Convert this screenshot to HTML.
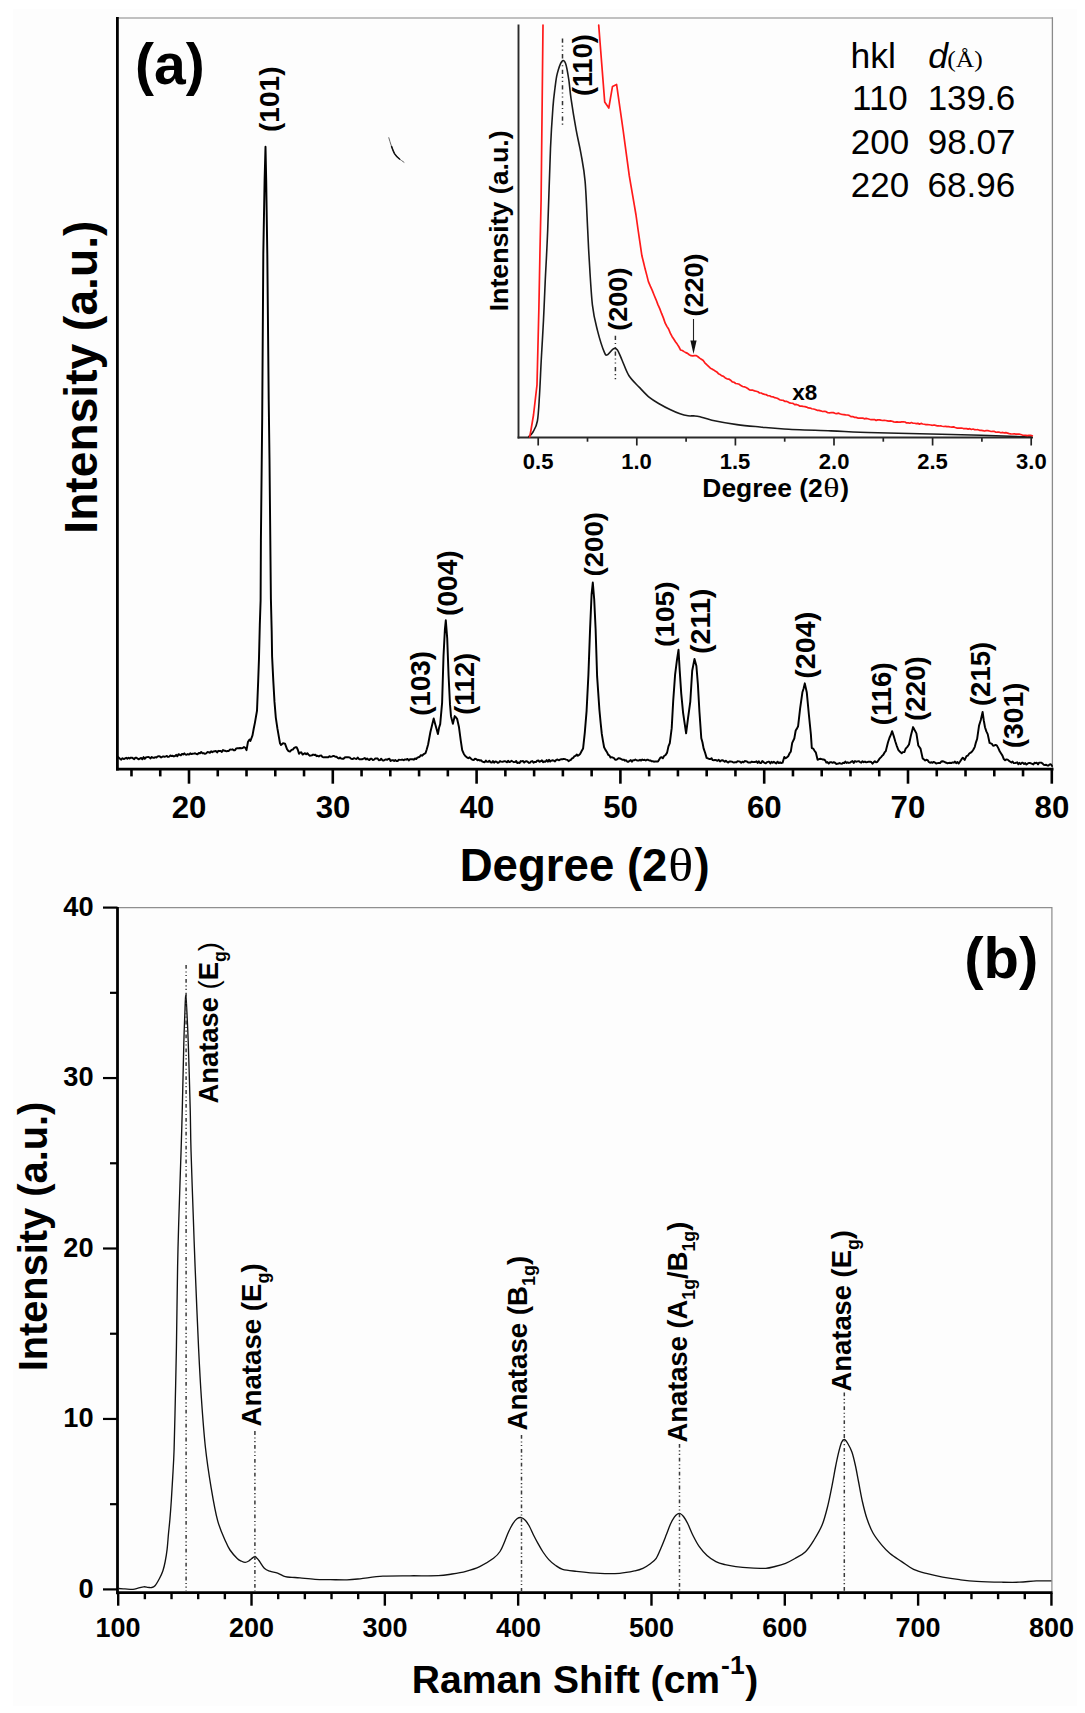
<!DOCTYPE html>
<html><head><meta charset="utf-8"><title>XRD and Raman</title>
<style>html,body{margin:0;padding:0;background:#fff;overflow:hidden;width:1085px;height:1713px;}svg{display:block;}</style></head>
<body><svg width="1085" height="1713" viewBox="0 0 1085 1713">
<rect width="1085" height="1713" fill="#fff"/>
<rect x="13" y="9" width="1064" height="1697" fill="#fdfdfd"/>
<line x1="117" y1="18" x2="1052.6" y2="18" stroke="#ababab" stroke-width="1.7" />
<line x1="1052.4" y1="17.2" x2="1052.4" y2="769" stroke="#8a8a8a" stroke-width="1.3" />
<line x1="131.48" y1="769.2" x2="131.48" y2="776.4" stroke="#000" stroke-width="2.6" />
<line x1="160.24" y1="769.2" x2="160.24" y2="776.4" stroke="#000" stroke-width="2.6" />
<line x1="189" y1="769.2" x2="189" y2="783.7" stroke="#000" stroke-width="2.6" />
<line x1="217.76" y1="769.2" x2="217.76" y2="776.4" stroke="#000" stroke-width="2.6" />
<line x1="246.52" y1="769.2" x2="246.52" y2="776.4" stroke="#000" stroke-width="2.6" />
<line x1="275.28" y1="769.2" x2="275.28" y2="776.4" stroke="#000" stroke-width="2.6" />
<line x1="304.04" y1="769.2" x2="304.04" y2="776.4" stroke="#000" stroke-width="2.6" />
<line x1="332.8" y1="769.2" x2="332.8" y2="783.7" stroke="#000" stroke-width="2.6" />
<line x1="361.56" y1="769.2" x2="361.56" y2="776.4" stroke="#000" stroke-width="2.6" />
<line x1="390.32" y1="769.2" x2="390.32" y2="776.4" stroke="#000" stroke-width="2.6" />
<line x1="419.08" y1="769.2" x2="419.08" y2="776.4" stroke="#000" stroke-width="2.6" />
<line x1="447.84" y1="769.2" x2="447.84" y2="776.4" stroke="#000" stroke-width="2.6" />
<line x1="476.6" y1="769.2" x2="476.6" y2="783.7" stroke="#000" stroke-width="2.6" />
<line x1="505.36" y1="769.2" x2="505.36" y2="776.4" stroke="#000" stroke-width="2.6" />
<line x1="534.12" y1="769.2" x2="534.12" y2="776.4" stroke="#000" stroke-width="2.6" />
<line x1="562.88" y1="769.2" x2="562.88" y2="776.4" stroke="#000" stroke-width="2.6" />
<line x1="591.64" y1="769.2" x2="591.64" y2="776.4" stroke="#000" stroke-width="2.6" />
<line x1="620.4" y1="769.2" x2="620.4" y2="783.7" stroke="#000" stroke-width="2.6" />
<line x1="649.16" y1="769.2" x2="649.16" y2="776.4" stroke="#000" stroke-width="2.6" />
<line x1="677.92" y1="769.2" x2="677.92" y2="776.4" stroke="#000" stroke-width="2.6" />
<line x1="706.68" y1="769.2" x2="706.68" y2="776.4" stroke="#000" stroke-width="2.6" />
<line x1="735.44" y1="769.2" x2="735.44" y2="776.4" stroke="#000" stroke-width="2.6" />
<line x1="764.2" y1="769.2" x2="764.2" y2="783.7" stroke="#000" stroke-width="2.6" />
<line x1="792.96" y1="769.2" x2="792.96" y2="776.4" stroke="#000" stroke-width="2.6" />
<line x1="821.72" y1="769.2" x2="821.72" y2="776.4" stroke="#000" stroke-width="2.6" />
<line x1="850.48" y1="769.2" x2="850.48" y2="776.4" stroke="#000" stroke-width="2.6" />
<line x1="879.24" y1="769.2" x2="879.24" y2="776.4" stroke="#000" stroke-width="2.6" />
<line x1="908" y1="769.2" x2="908" y2="783.7" stroke="#000" stroke-width="2.6" />
<line x1="936.76" y1="769.2" x2="936.76" y2="776.4" stroke="#000" stroke-width="2.6" />
<line x1="965.52" y1="769.2" x2="965.52" y2="776.4" stroke="#000" stroke-width="2.6" />
<line x1="994.28" y1="769.2" x2="994.28" y2="776.4" stroke="#000" stroke-width="2.6" />
<line x1="1023.04" y1="769.2" x2="1023.04" y2="776.4" stroke="#000" stroke-width="2.6" />
<line x1="1051.8" y1="769.2" x2="1051.8" y2="783.7" stroke="#000" stroke-width="2.6" />
<line x1="117.4" y1="17" x2="117.4" y2="770.6" stroke="#000" stroke-width="2.8" />
<line x1="116" y1="769.2" x2="1053.5" y2="769.2" stroke="#000" stroke-width="2.8" />
<text transform="translate(171.75,818.2)" font-family="'Liberation Sans', sans-serif" font-weight="bold" font-size="31.2" fill="#000">20</text>
<text transform="translate(315.73,818.2)" font-family="'Liberation Sans', sans-serif" font-weight="bold" font-size="31.2" fill="#000">30</text>
<text transform="translate(459.65,818.2)" font-family="'Liberation Sans', sans-serif" font-weight="bold" font-size="31.2" fill="#000">40</text>
<text transform="translate(603.21,818.2)" font-family="'Liberation Sans', sans-serif" font-weight="bold" font-size="31.2" fill="#000">50</text>
<text transform="translate(746.92,818.2)" font-family="'Liberation Sans', sans-serif" font-weight="bold" font-size="31.2" fill="#000">60</text>
<text transform="translate(890.62,818.2)" font-family="'Liberation Sans', sans-serif" font-weight="bold" font-size="31.2" fill="#000">70</text>
<text transform="translate(1034.59,818.2)" font-family="'Liberation Sans', sans-serif" font-weight="bold" font-size="31.2" fill="#000">80</text>
<text transform="translate(459.65,880.6)" font-family="'Liberation Sans', sans-serif" font-weight="bold" font-size="45.6" fill="#000">Degree (2</text>
<text transform="translate(668.26,880.6) scale(1.13,1)" font-family="'Liberation Serif', serif" font-weight="normal" font-size="46" fill="#000">θ</text>
<text transform="translate(694.56,880.6)" font-family="'Liberation Sans', sans-serif" font-weight="bold" font-size="45.6" fill="#000">)</text>
<text transform="translate(96.6,533.69) rotate(-90)" font-family="'Liberation Sans', sans-serif" font-weight="bold" font-size="46.2" fill="#000">Intensity (a.u.)</text>
<text transform="translate(135.05,83.9) scale(0.98,1)" font-family="'Liberation Sans', sans-serif" font-weight="bold" font-size="58.2" fill="#000">(a)</text>
<polyline points="118,757 120,758.73 121.25,759.66 122.5,758.21 123.75,759.05 125,758.5 126.15,757.79 127.31,758.74 128.46,757.67 129.62,758.5 130.77,757.66 131.92,757.67 133.08,758.36 134.23,759.21 135.38,757.63 136.54,757.81 137.69,758.66 138.85,759.32 140,758.47 141.18,758.01 142.35,759.22 143.53,757.11 144.71,758.83 145.88,757.51 147.06,757.13 148.24,757.01 149.41,757.36 150.59,758.41 151.76,756.95 152.94,757.77 154.12,757.83 155.29,757.18 156.47,757.5 157.65,756.37 158.82,756.3 160,756.55 161.15,757.47 162.31,756.78 163.46,756.4 164.62,756.87 165.77,756.44 166.92,755.97 168.08,756.93 169.23,756.59 170.38,755.46 171.54,756.06 172.69,755.82 173.85,756.46 175,756 176.17,754.89 177.33,756.27 178.5,754.23 179.67,754.75 180.83,755.36 182,753.88 183.17,754.48 184.33,753.35 185.5,754.6 186.67,754.67 187.83,754.1 189,754.63 190.22,753.3 191.44,754.05 192.67,753.74 193.89,753.62 195.11,753.26 196.33,754.01 197.56,754.16 198.78,753.03 200,753.36 201.23,751.96 202.46,753.29 203.69,753.09 204.92,753.78 206.15,753.32 207.38,752.06 208.62,752.21 209.85,752.76 211.08,751.26 212.31,752.15 213.54,751.42 214.77,751.23 216,751.03 217.17,752.42 218.33,750.85 219.5,750.94 220.67,751.09 221.83,751.98 223,750.08 224.17,750.72 225.33,750.78 226.5,751.34 227.67,751.04 228.83,750.97 230,749.51 231.25,749.64 232.5,749.34 233.75,750.32 235,750.31 236.25,748.36 237.5,748.24 238.75,748.19 240,748.01 241.33,748.2 242.67,748.06 244,746.98 245.25,747.81 246.5,750.12 248,741.71 249.5,739.65 250.4,741 252.5,735.32 253.7,728.78 254.9,722.86 257,710.79 258.2,680.82 259,658.08 259.8,625.12 260.6,600.82 260.9,540.66 262.2,417.76 263.3,254.38 264.6,180.13 265.5,146.8 266.2,180.04 267.3,253.65 268.7,399.36 269.5,459.26 270.5,559.65 270.9,599.02 271.7,631.6 272.1,656.43 273.3,680.92 274.5,701.9 275.8,717.56 277.4,728.42 279,737.65 280,743.23 281,744.95 283,743.16 285,743.7 287,749.17 288.5,751.02 290,751.58 291.5,749.93 293,749.46 294.2,747.92 295.4,747.29 296.6,747.15 297.8,749.73 299,753.72 300.2,752.46 301.4,752.35 302.6,754.59 303.8,753.86 305,753.22 306.15,754.25 307.31,753.27 308.46,754.52 309.62,755.67 310.77,755.57 311.92,755.35 313.08,754.55 314.23,754.94 315.38,754.65 316.54,756.14 317.69,755.76 318.85,756.46 320,755.63 321.18,755.48 322.35,756.87 323.53,757.35 324.71,757.15 325.88,757.14 327.06,757.27 328.24,757.19 329.41,756.15 330.59,756.89 331.76,756.62 332.94,756 334.12,756.09 335.29,756.74 336.47,756.79 337.65,757.84 338.82,758.51 340,757.48 341.18,758.61 342.35,758.78 343.53,758.76 344.71,757.51 345.88,757.25 347.06,757.32 348.24,757.3 349.41,757.37 350.59,758.35 351.76,759.01 352.94,758.93 354.12,758.19 355.29,758.62 356.47,759 357.65,757.48 358.82,758.8 360,759.4 361.18,759.17 362.35,759.16 363.53,758.61 364.71,758 365.88,759.4 367.06,758.45 368.24,759.53 369.41,759.96 370.59,758.75 371.76,758.81 372.94,760.07 374.12,759.63 375.29,758.46 376.47,758.42 377.65,758.53 378.82,760.24 380,760.07 381.18,758.68 382.35,760.24 383.53,760.63 384.71,759.98 385.88,759.37 387.06,759.86 388.24,759 389.41,758.8 390.59,760.97 391.76,760.32 392.94,760.11 394.12,761.06 395.29,760.02 396.47,761.04 397.65,761 398.82,759.71 400,759.85 401.25,759.83 402.5,759.6 403.75,760.25 405,759.42 406.25,759.66 407.5,758.91 408.75,760.51 410,759.18 411.25,759.18 412.5,759.23 413.75,759.71 415,758.43 416.18,759.04 417.35,757.65 418.52,757.25 419.7,756.75 420.85,755.19 422,755.67 423.15,754.65 424.3,753.81 425.5,753.21 426.7,749.48 428.1,744.54 430.4,732 432.05,725.32 433.7,718.52 435.1,723.77 436.5,728.69 437.9,734.03 439.05,727.83 440.2,724.13 442.1,702.95 443.5,656.21 444.9,629.3 445.8,620.32 447.2,638.14 448.6,675.97 450,704.41 451,716.38 452.9,723.85 454.7,716.11 455.9,717.28 457.1,718.82 458.9,726.7 460.8,740.87 462.2,750.15 463.85,753.97 465.5,756.24 466.9,757.33 468.3,758.17 469.7,757.37 471.1,758.73 472.4,759.88 473.7,759.95 475,758.7 476.25,759.09 477.5,760.22 478.75,759.83 480,760.63 481.18,760.3 482.35,761.64 483.53,761.93 484.71,762.21 485.88,760.62 487.06,761.89 488.24,761.8 489.41,760.7 490.59,762.36 491.76,762.58 492.94,760.97 494.12,762.62 495.29,761.43 496.47,761.67 497.65,762.81 498.82,762.5 500,761.06 501.15,761.66 502.31,761.85 503.46,761.47 504.62,761.16 505.77,761.44 506.92,762.33 508.08,760.8 509.23,761.98 510.38,761.74 511.54,760.82 512.69,761.51 513.85,762.16 515,761.93 516.15,760.95 517.31,762.98 518.46,762.56 519.62,762.97 520.77,761.07 521.92,761.43 523.08,760.94 524.23,762.58 525.38,761.46 526.54,761.16 527.69,761.81 528.85,762.9 530,762.7 531.19,761.4 532.38,761.09 533.57,762.71 534.76,761.87 535.95,762.08 537.14,760.67 538.33,760.53 539.52,761.84 540.71,761.19 541.9,760.35 543.1,762.18 544.29,761.44 545.48,761.74 546.67,760.08 547.86,761.71 549.05,759.9 550.24,761.58 551.43,760.61 552.62,760.29 553.81,760.69 555,761.44 556.25,759.9 557.5,759.51 558.75,760.3 560,759.57 561.25,759.2 562.5,759.23 563.75,758.9 565,759.14 566.17,759.64 567.35,759.87 568.53,761.12 569.7,760.34 570.87,759.93 572.03,758.36 573.2,757.86 574.37,756.27 575.53,755.92 576.7,754.53 577.87,755.75 579.03,754.98 580.2,753.82 581.65,750.94 583.1,748.46 584.8,732.63 586.6,710.8 588.4,674.95 590.1,628.39 591.6,594.14 592.8,582.56 594.2,599.21 595.6,628.81 597.1,676.16 599.4,709.75 600.6,722.53 601.8,733.95 602.95,740.8 604.1,747.29 605.47,749.86 606.83,751.92 608.2,754.79 609.36,755.36 610.52,757.53 611.68,757.16 612.84,757.66 614,758.19 615.17,759.73 616.35,759.67 617.53,759.1 618.7,758.12 619.96,758.47 621.22,759.02 622.48,759.83 623.74,759.61 625,760.68 626.15,760.26 627.31,761.77 628.46,761.77 629.62,760.81 630.77,760.12 631.92,761.69 633.08,760.22 634.23,760.3 635.38,759.49 636.54,760.31 637.69,760.49 638.85,760.53 640,759.84 641.15,760.56 642.31,759.52 643.46,760.14 644.62,759.81 645.77,760.55 646.92,759.81 648.08,759.83 649.23,760.5 650.38,760.4 651.54,761.23 652.69,761.16 653.85,761.7 655,761.55 656.5,761.38 658,761.43 660.3,757.76 661.57,757.22 662.83,758.27 664.1,756.03 665.6,755.04 667.1,752.62 668.45,746.35 669.8,743.14 671.7,728.16 673.2,700.98 675.1,674.61 677,659.69 678.5,649.81 679.7,670.35 681.2,693.11 683.1,712.84 684.6,723.02 686.1,733.32 688,718.28 690.3,701.56 692.2,670.7 694.5,659.03 696.4,666.01 697.9,684.47 699.4,711.29 701.3,738.29 702.45,742.28 703.6,748.44 705.1,752.78 706.6,757.88 707.87,758.38 709.13,759 710.4,759.08 711.55,758.21 712.7,760.15 713.85,760.25 715,759.91 716.25,760.25 717.5,760.8 718.75,759.77 720,761.52 721.18,760.53 722.35,760.2 723.53,760.7 724.71,761.79 725.88,760.7 727.06,761.95 728.24,762.54 729.41,761.55 730.59,761.38 731.76,761.66 732.94,762.18 734.12,762.43 735.29,762.17 736.47,762.3 737.65,761.13 738.82,761.35 740,761.66 741.18,762.72 742.35,761.75 743.53,762.31 744.71,761.08 745.88,761.17 747.06,761.62 748.24,762.5 749.41,762.53 750.59,762.48 751.76,761.62 752.94,762.11 754.12,761.98 755.29,761.97 756.47,761.2 757.65,762.89 758.82,761.35 760,763.05 761.15,763.01 762.31,761.03 763.46,762.05 764.62,762.89 765.77,763.26 766.92,762.17 768.08,761.81 769.23,761.73 770.38,763.4 771.54,761.83 772.69,762.69 773.85,761.77 775,762.65 776.27,763.53 777.53,761.66 778.8,763.1 780.07,762.35 781.33,763.12 782.6,762.65 784.3,757.01 785.67,758.27 787.03,757.17 788.4,755.95 789.6,753.26 790.8,751.68 792.2,742.89 794.3,738.46 795.7,730.51 796.9,728.61 798.1,726.2 800.1,708.65 802.4,692.3 803.6,688.55 804.8,683.35 806.8,692.56 808.9,714.74 810.9,734.67 811.8,747.98 813.17,748.57 814.53,750.69 815.9,752.66 817.6,759.8 818.97,759.1 820.33,758.79 821.7,759.14 822.86,759.45 824.02,759.59 825.18,760.34 826.34,762.6 827.5,762.03 828.75,763.54 830,762.12 831.25,762.23 832.5,762.86 833.75,762.23 835,762.72 836.15,763.95 837.31,763.74 838.46,763.52 839.62,763.07 840.77,763.64 841.92,763.65 843.08,762.73 844.23,763.05 845.38,761.52 846.54,762.97 847.69,762.3 848.85,762.91 850,762.62 851.25,761.73 852.5,761.11 853.75,762.94 855,761.08 856.25,761.74 857.5,761.36 858.75,761.16 860,762.03 861.25,762.68 862.5,761.23 863.75,762.23 865,761.58 866.25,762.28 867.5,762.05 868.75,761.68 870,761.8 871.25,762.03 872.5,763.69 873.68,762.33 874.86,761.26 876.04,762.31 877.22,762.05 878.4,760.39 879.63,758.47 880.87,757.36 882.1,755.9 883.33,754.72 884.57,752.43 885.8,751.03 888,742.27 889.5,737.75 890.8,734.95 892.1,731.15 893.75,736.11 895.4,741.81 896.85,746.1 898.3,749.83 900,751.79 901.7,753.24 903.03,752.11 904.37,752.03 905.7,748.58 907.35,746.81 909,744.49 910.9,735.5 913.1,727.08 914.75,730.3 916.4,733.35 918.3,745.48 920.5,748.58 922.7,758.5 923.93,759.37 925.17,760.52 926.4,759.75 927.62,760.14 928.83,761.99 930.05,762.77 931.27,762.21 932.48,762.83 933.7,761.9 934.96,762.56 936.22,763.54 937.48,763.12 938.74,762.98 940,763.04 941.25,761.51 942.5,761.26 943.75,761.43 945,762.3 946.25,762.71 947.5,763.35 948.75,762.93 950,762.82 951.24,763.1 952.49,762.43 953.73,762.66 954.97,761.54 956.21,763.19 957.46,762 958.7,763.52 960.07,761.55 961.43,759.43 962.8,757.68 964.7,759.95 966.5,756.2 967.9,755.57 969.3,753.51 970.7,752.65 972.07,751.49 973.43,749.45 974.8,746.85 975.95,742.34 977.1,739.02 979,725.82 980.8,719.96 982.6,712.01 983.8,720.51 985,727.22 986.35,731.39 987.7,734.15 989.6,742.92 991.9,743.84 993.13,745.71 994.37,745.45 995.6,744.88 996.95,745.65 998.3,748.1 999.7,751.23 1001.1,753.42 1002.45,755.62 1003.8,759.07 1005.1,760.28 1006.4,759.38 1007.7,759.6 1009,760.9 1010.3,761.73 1011.45,762.48 1012.6,761.59 1013.75,763.08 1014.9,763.13 1016.05,762.79 1017.2,762.3 1018.35,764.16 1019.5,762.89 1020.65,764.05 1021.8,762.81 1022.95,762.84 1024.1,764.07 1025.25,763.1 1026.4,764.59 1027.55,763.64 1028.7,763.01 1029.86,763.04 1031.03,763.42 1032.19,763.91 1033.35,764.49 1034.51,762.67 1035.67,763.17 1036.84,762.72 1038,764.34 1039.17,762.65 1040.33,762.6 1041.5,762.76 1042.67,763.63 1043.83,764.88 1045,764.99 1046.17,764.8 1047.33,765.53 1048.5,765.52 1049.67,764.34 1050.83,764.17 1052,765.96" fill="none" stroke="#000" stroke-width="1.95" stroke-linejoin="round" stroke-linecap="round" />
<path d="M388.8,137.7 C390.2,142.5 392,148.5 394.3,153.2 C396.5,157 400.5,159.8 404,162.3" fill="none" stroke="#666" stroke-width="1.0" stroke-linecap="round"/>
<path d="M391.6,146.5 C392.6,149.5 393.4,151.6 394.5,153.6 C396,156 397.5,157.4 399.5,159" fill="none" stroke="#111" stroke-width="1.5" stroke-linecap="round"/>
<text transform="translate(278.87,132.1) rotate(-90)" font-family="'Liberation Sans', sans-serif" font-weight="bold" font-size="28.11" fill="#000">(101)</text>
<text transform="translate(429.76,715.68) rotate(-90)" font-family="'Liberation Sans', sans-serif" font-weight="bold" font-size="27.68" fill="#000">(103)</text>
<text transform="translate(457.21,616) rotate(-90) scale(1.01,1)" font-family="'Liberation Sans', sans-serif" font-weight="bold" font-size="27.9" fill="#000">(004)</text>
<text transform="translate(473.96,714.76) rotate(-90) scale(0.98,1)" font-family="'Liberation Sans', sans-serif" font-weight="bold" font-size="27.68" fill="#000">(112)</text>
<text transform="translate(602.88,576.58) rotate(-90) scale(1.04,1)" font-family="'Liberation Sans', sans-serif" font-weight="bold" font-size="26.61" fill="#000">(200)</text>
<text transform="translate(673.77,646.89) rotate(-90) scale(1.07,1)" font-family="'Liberation Sans', sans-serif" font-weight="bold" font-size="26.18" fill="#000">(105)</text>
<text transform="translate(710.02,654.03) rotate(-90) scale(1.05,1)" font-family="'Liberation Sans', sans-serif" font-weight="bold" font-size="27.36" fill="#000">(211)</text>
<text transform="translate(815.2,678.73) rotate(-90) scale(1.01,1)" font-family="'Liberation Sans', sans-serif" font-weight="bold" font-size="28.43" fill="#000">(204)</text>
<text transform="translate(890.73,725.28) rotate(-90) scale(1.03,1)" font-family="'Liberation Sans', sans-serif" font-weight="bold" font-size="26.82" fill="#000">(116)</text>
<text transform="translate(924.71,720.88) rotate(-90) scale(1.03,1)" font-family="'Liberation Sans', sans-serif" font-weight="bold" font-size="26.93" fill="#000">(220)</text>
<text transform="translate(989.59,706.08) rotate(-90) scale(1.02,1)" font-family="'Liberation Sans', sans-serif" font-weight="bold" font-size="27.04" fill="#000">(215)</text>
<text transform="translate(1023.21,748.3) rotate(-90) scale(1.01,1)" font-family="'Liberation Sans', sans-serif" font-weight="bold" font-size="27.9" fill="#000">(301)</text>
<line x1="538.2" y1="437.5" x2="538.2" y2="445.5" stroke="#222" stroke-width="1.7" />
<line x1="587.5" y1="437.5" x2="587.5" y2="441.7" stroke="#222" stroke-width="1.7" />
<line x1="636.8" y1="437.5" x2="636.8" y2="445.5" stroke="#222" stroke-width="1.7" />
<line x1="686.1" y1="437.5" x2="686.1" y2="441.7" stroke="#222" stroke-width="1.7" />
<line x1="735.4" y1="437.5" x2="735.4" y2="445.5" stroke="#222" stroke-width="1.7" />
<line x1="784.7" y1="437.5" x2="784.7" y2="441.7" stroke="#222" stroke-width="1.7" />
<line x1="834" y1="437.5" x2="834" y2="445.5" stroke="#222" stroke-width="1.7" />
<line x1="883.3" y1="437.5" x2="883.3" y2="441.7" stroke="#222" stroke-width="1.7" />
<line x1="932.6" y1="437.5" x2="932.6" y2="445.5" stroke="#222" stroke-width="1.7" />
<line x1="981.9" y1="437.5" x2="981.9" y2="441.7" stroke="#222" stroke-width="1.7" />
<line x1="1031.2" y1="437.5" x2="1031.2" y2="445.5" stroke="#222" stroke-width="1.7" />
<line x1="518.5" y1="24.4" x2="518.5" y2="438.4" stroke="#2a2a2a" stroke-width="1.9" />
<line x1="517.6" y1="437.5" x2="1033" y2="437.5" stroke="#2a2a2a" stroke-width="1.9" />
<text transform="translate(522.78,468.6)" font-family="'Liberation Sans', sans-serif" font-weight="bold" font-size="22" fill="#000">0.5</text>
<text transform="translate(621.27,468.6)" font-family="'Liberation Sans', sans-serif" font-weight="bold" font-size="22" fill="#000">1.0</text>
<text transform="translate(719.72,468.6)" font-family="'Liberation Sans', sans-serif" font-weight="bold" font-size="22" fill="#000">1.5</text>
<text transform="translate(818.78,468.6)" font-family="'Liberation Sans', sans-serif" font-weight="bold" font-size="22" fill="#000">2.0</text>
<text transform="translate(917.23,468.6)" font-family="'Liberation Sans', sans-serif" font-weight="bold" font-size="22" fill="#000">2.5</text>
<text transform="translate(1016.11,468.6)" font-family="'Liberation Sans', sans-serif" font-weight="bold" font-size="22" fill="#000">3.0</text>
<text transform="translate(702.33,497)" font-family="'Liberation Sans', sans-serif" font-weight="bold" font-size="26.4" fill="#000">Degree (2</text>
<text transform="translate(823.21,497) scale(1.28,1)" font-family="'Liberation Serif', serif" font-weight="normal" font-size="26.4" fill="#000">θ</text>
<text transform="translate(840.27,497)" font-family="'Liberation Sans', sans-serif" font-weight="bold" font-size="26.4" fill="#000">)</text>
<text transform="translate(507.5,311.29) rotate(-90)" font-family="'Liberation Sans', sans-serif" font-weight="bold" font-size="26.7" fill="#000">Intensity (a.u.)</text>
<path d="M528.4,437 C529.17,436.17 531.5,434.67 533,432 C534.5,429.33 536.32,427.17 537.4,421 C538.48,414.83 538.85,405.33 539.5,395 C540.15,384.67 540.63,371.5 541.3,359 C541.97,346.5 542.85,332.9 543.5,320 C544.15,307.1 544.5,296.6 545.2,281.6 C545.9,266.6 546.82,252.23 547.7,230 C548.58,207.77 549.62,168.77 550.5,148.2 C551.38,127.63 552.25,116.63 553,106.6 C553.75,96.57 554.3,93.45 555,88 C555.7,82.55 556.07,78.32 557.2,73.9 C558.33,69.48 560.42,63.27 561.8,61.5 C563.18,59.73 564.35,60.38 565.5,63.3 C566.65,66.22 567.78,73.17 568.7,79 C569.62,84.83 569.77,89.85 571,98.3 C572.23,106.75 574.43,120.45 576.1,129.7 C577.77,138.95 579.5,145.18 581,153.8 C582.5,162.42 583.98,168.7 585.1,181.4 C586.22,194.1 587.05,217.6 587.7,230 C588.35,242.4 588.22,243.33 589,255.8 C589.78,268.27 590.98,292.33 592.4,304.8 C593.82,317.27 595.48,322.63 597.5,330.6 C599.52,338.57 602.77,348.63 604.5,352.6 C606.23,356.57 606.4,355.05 607.9,354.4 C609.4,353.75 611.92,349.43 613.5,348.7 C615.08,347.97 615.98,348.12 617.4,350 C618.82,351.88 620.07,355.7 622,360 C623.93,364.3 626.1,371.23 629,375.8 C631.9,380.37 635.95,383.75 639.4,387.4 C642.85,391.05 646.27,394.9 649.7,397.7 C653.13,400.5 656.62,402.23 660,404.2 C663.38,406.17 666.67,407.9 670,409.5 C673.33,411.1 677,412.75 680,413.8 C683,414.85 685.67,415.45 688,415.8 C690.33,416.15 692,415.73 694,415.9 C696,416.07 697.02,416.08 700,416.8 C702.98,417.52 705.73,418.9 711.9,420.2 C718.07,421.5 728.98,423.47 737,424.6 C745.02,425.73 752.17,426.27 760,427 C767.83,427.73 772.17,428.35 784,429 C795.83,429.65 818.33,430.37 831,430.9 C843.67,431.43 848.8,431.8 860,432.2 C871.2,432.6 878,432.78 898.2,433.3 C918.4,433.82 958.85,434.68 981.2,435.3 C1003.55,435.92 1023.78,436.72 1032.3,437" fill="none" stroke="#1a1a1a" stroke-width="1.6" stroke-linejoin="round" />
<polyline points="543,25.1 542.2,100 541.1,200 540,250 538.9,307.4 537,384.8 533.5,415 531,430 529.7,437" fill="none" stroke="#ff1a1a" stroke-width="1.7" stroke-linejoin="round" stroke-linecap="round" />
<polyline points="598.7,25.1 600.7,50.73 602.7,76.37 604.7,102 606.75,105 608.8,108 610.65,97.2 612.5,86.4 614.55,85.45 616.6,84.5 618.23,95.88 619.85,107.25 621.48,118.62 623.1,130 625.17,145.3 627.23,160.6 629.3,175.9 630.97,185.68 632.65,195.45 634.33,205.22 636,215 638.1,230 640,242.9 641.9,255.76 643.52,262.3 645.15,269.08 646.77,275.12 648.4,281.61 650.33,286.2 652.25,290.37 654.17,295.19 656.1,299.82 657.92,304.6 659.74,308.61 661.56,313.44 663.38,317.89 665.2,323.18 666.9,326.35 668.6,329.04 670.3,333.16 672,336.42 673.72,338.94 675.44,341.7 677.16,344.09 678.88,346.76 680.6,350.03 682.33,350.55 684.07,351.62 685.8,352.62 687.53,353.38 689.27,354.72 691,355.65 692.77,355.94 694.53,355.58 696.3,355.63 697.97,356.75 699.65,358.15 701.33,359.21 703,360.3 704.85,362.82 706.7,364.7 708.55,366.43 710.4,368.19 712,368.92 713.6,369.92 715.2,371.06 716.8,371.95 718.4,373.66 720,374.41 721.76,375.81 723.51,376.4 725.27,377.91 727.03,378.81 728.79,379.05 730.54,380.24 732.3,381.87 734.02,382.26 735.74,383.51 737.46,383.78 739.18,384.28 740.9,385.57 742.62,386.49 744.34,386.82 746.06,387.45 747.78,388.46 749.5,389.82 751.18,390.19 752.86,390.17 754.54,390.84 756.21,391.27 757.89,391.79 759.57,393.01 761.25,393.01 762.93,393.91 764.61,394.37 766.29,394.69 767.96,395.74 769.64,395.75 771.32,396.77 773,396.85 774.67,397.67 776.34,398.02 778.01,398.61 779.67,399.77 781.34,400.16 783.01,400.25 784.68,401.31 786.35,401.24 788.02,401.94 789.69,402.89 791.36,403.24 793.03,403.29 794.69,404.63 796.36,404.47 798.03,405.04 799.7,406.05 801.43,406.06 803.17,406.44 804.9,406.65 806.63,407.08 808.37,407.93 810.1,408.04 811.83,408.77 813.57,408.97 815.3,409.46 817.1,410.33 818.9,410.31 820.7,410.81 822.5,411.49 824.3,411.29 826.1,411.67 827.9,412.77 829.69,412.86 831.47,412.52 833.26,412.64 835.04,413.3 836.83,413.65 838.61,413.16 840.4,414.01 842.14,414.39 843.89,414.58 845.63,414.86 847.38,415.02 849.12,415.41 850.87,416.68 852.61,416.48 854.36,417.34 856.1,417.38 857.77,418.09 859.43,418.09 861.1,418.01 862.77,418.11 864.43,418.8 866.1,418.41 867.77,418.76 869.43,419.25 871.1,419.72 872.77,419.7 874.43,419.6 876.1,420.38 877.71,419.87 879.31,419.84 880.92,420.2 882.53,420.49 884.13,420.28 885.74,420.52 887.35,420.83 888.95,421.15 890.56,420.89 892.16,421.23 893.77,421.84 895.38,422.06 896.98,421.9 898.59,422.07 900.2,422.11 901.8,421.84 903.41,421.88 905.02,422 906.62,422.94 908.23,422.89 909.84,423.26 911.44,422.55 913.05,423.24 914.65,423.24 916.26,423.59 917.87,423.36 919.47,424.11 921.08,423.41 922.69,423.97 924.29,424.28 925.9,424.56 927.53,424.59 929.15,424.74 930.78,425 932.41,425.29 934.03,424.96 935.66,425.44 937.29,425.82 938.91,425.97 940.54,425.74 942.16,426.26 943.79,426.5 945.42,426.42 947.04,426.64 948.67,426.61 950.3,426.97 951.92,427.17 953.55,426.87 955.18,427.55 956.8,428.05 958.43,428.13 960.06,428.17 961.68,428.05 963.31,428.54 964.94,428.58 966.56,428.63 968.19,429.17 969.81,428.67 971.44,429.45 973.07,428.98 974.69,429.67 976.32,429.74 977.95,429.7 979.57,430.3 981.2,430.3 982.85,430.58 984.5,431.03 986.15,430.61 987.79,430.57 989.44,431.01 991.09,431.52 992.74,431.27 994.39,431.42 996.04,432.26 997.68,432.22 999.33,432.2 1000.98,432.78 1002.63,432.45 1004.28,432.93 1005.93,432.69 1007.57,433.08 1009.22,433.59 1010.87,433.87 1012.52,434.01 1014.17,433.74 1015.82,434.1 1017.46,434.04 1019.11,434.05 1020.76,434.55 1022.41,435.04 1024.06,435.23 1025.71,435.28 1027.35,435.67 1029,435.24 1030.65,435.32 1032.3,435.76" fill="none" stroke="#ff1a1a" stroke-width="1.7" stroke-linejoin="round" stroke-linecap="round" />
<line x1="562.5" y1="38.5" x2="562.5" y2="126" stroke="#333" stroke-width="1.5" stroke-dasharray="4.3,2.8,1.1,2.9,1.1,3.4"/>
<line x1="615.4" y1="335.8" x2="615.4" y2="382.3" stroke="#333" stroke-width="1.5" stroke-dasharray="4.3,2.8,1.1,2.9,1.1,3.4"/>
<line x1="693.5" y1="319" x2="693.5" y2="342" stroke="#222" stroke-width="1.1" />
<path d="M690.4,340.5 L696.6,340.5 L693.5,354 Z" fill="#111"/>
<text transform="translate(592.07,96.06) rotate(-90) scale(1,1)" font-family="'Liberation Sans', sans-serif" font-weight="bold" font-size="27.15" fill="#000">(110)</text>
<text transform="translate(627.45,330.75) rotate(-90) scale(1.03,1)" font-family="'Liberation Sans', sans-serif" font-weight="bold" font-size="26.29" fill="#000">(200)</text>
<text transform="translate(703.16,316.55) rotate(-90) scale(1.05,1)" font-family="'Liberation Sans', sans-serif" font-weight="bold" font-size="25.75" fill="#000">(220)</text>
<text transform="translate(792.25,400.3) scale(1.02,1)" font-family="'Liberation Sans', sans-serif" font-weight="bold" font-size="22" fill="#000">x8</text>
<text transform="translate(850.44,67.8)" font-family="'Liberation Sans', sans-serif" font-weight="normal" font-size="35.5" fill="#000">hkl</text>
<text transform="translate(928.2,67.8)" font-family="'Liberation Sans', sans-serif" font-weight="normal" font-size="35.5" fill="#000" font-style="italic">d</text>
<text transform="translate(947.28,67) scale(1.09,1)" font-family="'Liberation Serif', serif" font-weight="normal" font-size="23.5" fill="#000">(Å)</text>
<text transform="translate(852.03,110.2)" font-family="'Liberation Sans', sans-serif" font-weight="normal" font-size="35" fill="#000">110</text>
<text transform="translate(927.63,110.2)" font-family="'Liberation Sans', sans-serif" font-weight="normal" font-size="35" fill="#000">139.6</text>
<text transform="translate(850.74,153.5)" font-family="'Liberation Sans', sans-serif" font-weight="normal" font-size="35" fill="#000">200</text>
<text transform="translate(927.76,153.5)" font-family="'Liberation Sans', sans-serif" font-weight="normal" font-size="35" fill="#000">98.07</text>
<text transform="translate(850.74,196.8)" font-family="'Liberation Sans', sans-serif" font-weight="normal" font-size="35" fill="#000">220</text>
<text transform="translate(927.62,196.8)" font-family="'Liberation Sans', sans-serif" font-weight="normal" font-size="35" fill="#000">68.96</text>
<line x1="119" y1="907.6" x2="1052" y2="907.6" stroke="#8f8f8f" stroke-width="1.2" />
<line x1="1051.9" y1="907" x2="1051.9" y2="1592.7" stroke="#8a8a8a" stroke-width="1.2" />
<line x1="118.2" y1="1592.7" x2="118.2" y2="1605.7" stroke="#000" stroke-width="2.4" />
<line x1="144.86" y1="1592.7" x2="144.86" y2="1599.2" stroke="#000" stroke-width="2.4" />
<line x1="171.53" y1="1592.7" x2="171.53" y2="1599.2" stroke="#000" stroke-width="2.4" />
<line x1="198.19" y1="1592.7" x2="198.19" y2="1599.2" stroke="#000" stroke-width="2.4" />
<line x1="224.86" y1="1592.7" x2="224.86" y2="1599.2" stroke="#000" stroke-width="2.4" />
<line x1="251.52" y1="1592.7" x2="251.52" y2="1605.7" stroke="#000" stroke-width="2.4" />
<line x1="278.18" y1="1592.7" x2="278.18" y2="1599.2" stroke="#000" stroke-width="2.4" />
<line x1="304.85" y1="1592.7" x2="304.85" y2="1599.2" stroke="#000" stroke-width="2.4" />
<line x1="331.51" y1="1592.7" x2="331.51" y2="1599.2" stroke="#000" stroke-width="2.4" />
<line x1="358.18" y1="1592.7" x2="358.18" y2="1599.2" stroke="#000" stroke-width="2.4" />
<line x1="384.84" y1="1592.7" x2="384.84" y2="1605.7" stroke="#000" stroke-width="2.4" />
<line x1="411.5" y1="1592.7" x2="411.5" y2="1599.2" stroke="#000" stroke-width="2.4" />
<line x1="438.17" y1="1592.7" x2="438.17" y2="1599.2" stroke="#000" stroke-width="2.4" />
<line x1="464.83" y1="1592.7" x2="464.83" y2="1599.2" stroke="#000" stroke-width="2.4" />
<line x1="491.5" y1="1592.7" x2="491.5" y2="1599.2" stroke="#000" stroke-width="2.4" />
<line x1="518.16" y1="1592.7" x2="518.16" y2="1605.7" stroke="#000" stroke-width="2.4" />
<line x1="544.82" y1="1592.7" x2="544.82" y2="1599.2" stroke="#000" stroke-width="2.4" />
<line x1="571.49" y1="1592.7" x2="571.49" y2="1599.2" stroke="#000" stroke-width="2.4" />
<line x1="598.15" y1="1592.7" x2="598.15" y2="1599.2" stroke="#000" stroke-width="2.4" />
<line x1="624.82" y1="1592.7" x2="624.82" y2="1599.2" stroke="#000" stroke-width="2.4" />
<line x1="651.48" y1="1592.7" x2="651.48" y2="1605.7" stroke="#000" stroke-width="2.4" />
<line x1="678.14" y1="1592.7" x2="678.14" y2="1599.2" stroke="#000" stroke-width="2.4" />
<line x1="704.81" y1="1592.7" x2="704.81" y2="1599.2" stroke="#000" stroke-width="2.4" />
<line x1="731.47" y1="1592.7" x2="731.47" y2="1599.2" stroke="#000" stroke-width="2.4" />
<line x1="758.14" y1="1592.7" x2="758.14" y2="1599.2" stroke="#000" stroke-width="2.4" />
<line x1="784.8" y1="1592.7" x2="784.8" y2="1605.7" stroke="#000" stroke-width="2.4" />
<line x1="811.46" y1="1592.7" x2="811.46" y2="1599.2" stroke="#000" stroke-width="2.4" />
<line x1="838.13" y1="1592.7" x2="838.13" y2="1599.2" stroke="#000" stroke-width="2.4" />
<line x1="864.79" y1="1592.7" x2="864.79" y2="1599.2" stroke="#000" stroke-width="2.4" />
<line x1="891.46" y1="1592.7" x2="891.46" y2="1599.2" stroke="#000" stroke-width="2.4" />
<line x1="918.12" y1="1592.7" x2="918.12" y2="1605.7" stroke="#000" stroke-width="2.4" />
<line x1="944.78" y1="1592.7" x2="944.78" y2="1599.2" stroke="#000" stroke-width="2.4" />
<line x1="971.45" y1="1592.7" x2="971.45" y2="1599.2" stroke="#000" stroke-width="2.4" />
<line x1="998.11" y1="1592.7" x2="998.11" y2="1599.2" stroke="#000" stroke-width="2.4" />
<line x1="1024.78" y1="1592.7" x2="1024.78" y2="1599.2" stroke="#000" stroke-width="2.4" />
<line x1="1051.44" y1="1592.7" x2="1051.44" y2="1605.7" stroke="#000" stroke-width="2.4" />
<line x1="103" y1="1589.4" x2="117.5" y2="1589.4" stroke="#000" stroke-width="2.2" />
<line x1="110" y1="1504.18" x2="117.5" y2="1504.18" stroke="#000" stroke-width="2.2" />
<line x1="103" y1="1418.95" x2="117.5" y2="1418.95" stroke="#000" stroke-width="2.2" />
<line x1="110" y1="1333.73" x2="117.5" y2="1333.73" stroke="#000" stroke-width="2.2" />
<line x1="103" y1="1248.5" x2="117.5" y2="1248.5" stroke="#000" stroke-width="2.2" />
<line x1="110" y1="1163.28" x2="117.5" y2="1163.28" stroke="#000" stroke-width="2.2" />
<line x1="103" y1="1078.05" x2="117.5" y2="1078.05" stroke="#000" stroke-width="2.2" />
<line x1="110" y1="992.83" x2="117.5" y2="992.83" stroke="#000" stroke-width="2.2" />
<line x1="103" y1="907.6" x2="117.5" y2="907.6" stroke="#000" stroke-width="2.2" />
<line x1="117.5" y1="907" x2="117.5" y2="1594.2" stroke="#000" stroke-width="2.8" />
<line x1="116.2" y1="1592.7" x2="1052.5" y2="1592.7" stroke="#000" stroke-width="2.8" />
<text transform="translate(95.38,1636.6)" font-family="'Liberation Sans', sans-serif" font-weight="bold" font-size="27" fill="#000">100</text>
<text transform="translate(229.08,1636.6)" font-family="'Liberation Sans', sans-serif" font-weight="bold" font-size="27" fill="#000">200</text>
<text transform="translate(362.56,1636.6)" font-family="'Liberation Sans', sans-serif" font-weight="bold" font-size="27" fill="#000">300</text>
<text transform="translate(495.99,1636.6)" font-family="'Liberation Sans', sans-serif" font-weight="bold" font-size="27" fill="#000">400</text>
<text transform="translate(629.09,1636.6)" font-family="'Liberation Sans', sans-serif" font-weight="bold" font-size="27" fill="#000">500</text>
<text transform="translate(762.34,1636.6)" font-family="'Liberation Sans', sans-serif" font-weight="bold" font-size="27" fill="#000">600</text>
<text transform="translate(895.57,1636.6)" font-family="'Liberation Sans', sans-serif" font-weight="bold" font-size="27" fill="#000">700</text>
<text transform="translate(1029.04,1636.6)" font-family="'Liberation Sans', sans-serif" font-weight="bold" font-size="27" fill="#000">800</text>
<text transform="translate(78.49,1597.6)" font-family="'Liberation Sans', sans-serif" font-weight="bold" font-size="27.2" fill="#000">0</text>
<text transform="translate(63.36,1427.15)" font-family="'Liberation Sans', sans-serif" font-weight="bold" font-size="27.2" fill="#000">10</text>
<text transform="translate(63.36,1256.7)" font-family="'Liberation Sans', sans-serif" font-weight="bold" font-size="27.2" fill="#000">20</text>
<text transform="translate(63.36,1086.25)" font-family="'Liberation Sans', sans-serif" font-weight="bold" font-size="27.2" fill="#000">30</text>
<text transform="translate(63.36,915.8)" font-family="'Liberation Sans', sans-serif" font-weight="bold" font-size="27.2" fill="#000">40</text>
<text transform="translate(411.78,1692.5)" font-family="'Liberation Sans', sans-serif" font-weight="bold" font-size="39.1" fill="#000">Raman Shift (cm</text>
<text transform="translate(721.06,1673.5)" font-family="'Liberation Sans', sans-serif" font-weight="bold" font-size="26.5" fill="#000">-1</text>
<text transform="translate(745.36,1692.5)" font-family="'Liberation Sans', sans-serif" font-weight="bold" font-size="39.1" fill="#000">)</text>
<text transform="translate(46.8,1371.37) rotate(-90) scale(0.99,1)" font-family="'Liberation Sans', sans-serif" font-weight="bold" font-size="40.2" fill="#000">Intensity (a.u.)</text>
<text transform="translate(964.22,977.5) scale(1,1)" font-family="'Liberation Sans', sans-serif" font-weight="bold" font-size="58" fill="#000">(b)</text>
<path d="M118.5,1588.5 C119.58,1588.57 122.58,1588.77 125,1588.9 C127.42,1589.03 130.83,1589.42 133,1589.3 C135.17,1589.18 136.22,1588.62 138,1588.2 C139.78,1587.78 142.03,1586.95 143.7,1586.8 C145.37,1586.65 146.75,1587.17 148,1587.3 C149.25,1587.43 150.03,1587.85 151.2,1587.6 C152.37,1587.35 153.6,1587.35 155,1585.8 C156.4,1584.25 158.28,1580.8 159.6,1578.3 C160.92,1575.8 161.97,1573.6 162.9,1570.8 C163.83,1568 164.5,1565.08 165.2,1561.5 C165.9,1557.92 166.55,1553.97 167.1,1549.3 C167.65,1544.63 168.03,1538.48 168.5,1533.5 C168.97,1528.52 169.43,1524.87 169.9,1519.4 C170.37,1513.93 170.83,1507.7 171.3,1500.7 C171.77,1493.7 172.23,1485.97 172.7,1477.4 C173.17,1468.83 173.67,1462.2 174.1,1449.3 C174.53,1436.4 174.92,1416.8 175.3,1400 C175.68,1383.2 176.02,1370.7 176.4,1348.5 C176.78,1326.3 177.2,1288.22 177.6,1266.8 C178,1245.38 178.22,1239.47 178.8,1220 C179.38,1200.53 180.52,1168.58 181.1,1150 C181.68,1131.42 181.85,1126.17 182.3,1108.5 C182.75,1090.83 183.38,1059.58 183.8,1044 C184.22,1028.42 184.48,1023.1 184.8,1015 C185.12,1006.9 185.35,995.9 185.7,995.4 C186.05,994.9 186.47,1003.9 186.9,1012 C187.33,1020.1 187.75,1027.92 188.3,1044 C188.85,1060.08 189.75,1090.83 190.2,1108.5 C190.65,1126.17 190.47,1131.42 191,1150 C191.53,1168.58 192.72,1200.53 193.4,1220 C194.08,1239.47 194.23,1245.38 195.1,1266.8 C195.97,1288.22 197.55,1326.6 198.6,1348.5 C199.65,1370.4 200.27,1381.75 201.4,1398.2 C202.53,1414.65 203.77,1432.22 205.4,1447.2 C207.03,1462.18 209.15,1475.82 211.2,1488.1 C213.25,1500.38 215.25,1511.9 217.7,1520.9 C220.15,1529.9 223.85,1537.25 225.9,1542.1 C227.95,1546.95 228.12,1547.27 230,1550 C231.88,1552.73 235.28,1556.63 237.2,1558.5 C239.12,1560.37 240.17,1560.55 241.5,1561.2 C242.83,1561.85 243.98,1562.43 245.2,1562.4 C246.42,1562.37 247.7,1561.65 248.8,1561 C249.9,1560.35 250.78,1559.25 251.8,1558.5 C252.82,1557.75 254.03,1556.53 254.9,1556.5 C255.77,1556.47 256.27,1557.55 257,1558.3 C257.73,1559.05 258.08,1559.35 259.3,1561 C260.52,1562.65 262.55,1566.5 264.3,1568.2 C266.05,1569.9 267.58,1570.38 269.8,1571.2 C272.02,1572.02 275.02,1572.18 277.6,1573.1 C280.18,1574.02 282.9,1576 285.3,1576.7 C287.7,1577.4 289.55,1577.1 292,1577.3 C294.45,1577.5 296.17,1577.57 300,1577.9 C303.83,1578.23 309.93,1579.02 315,1579.3 C320.07,1579.58 325.07,1579.52 330.4,1579.6 C335.73,1579.68 342.07,1579.93 347,1579.8 C351.93,1579.67 354.02,1579.4 360,1578.8 C365.98,1578.2 374.57,1576.7 382.9,1576.2 C391.23,1575.7 400.78,1575.88 410,1575.8 C419.22,1575.72 431.2,1576 438.2,1575.7 C445.2,1575.4 447.38,1574.73 452,1574 C456.62,1573.27 461.28,1572.53 465.9,1571.3 C470.52,1570.07 475.1,1568.77 479.7,1566.6 C484.3,1564.43 490.12,1560.82 493.5,1558.3 C496.88,1555.78 498.15,1554.27 500,1551.5 C501.85,1548.73 503.18,1544.95 504.6,1541.7 C506.02,1538.45 507.12,1535 508.5,1532 C509.88,1529 511.48,1525.9 512.9,1523.7 C514.32,1521.5 515.62,1519.82 517,1518.8 C518.38,1517.78 519.78,1517.32 521.2,1517.6 C522.62,1517.88 524.12,1519.02 525.5,1520.5 C526.88,1521.98 528.17,1524.08 529.5,1526.5 C530.83,1528.92 532.12,1532.23 533.5,1535 C534.88,1537.77 536.22,1540.27 537.8,1543.1 C539.38,1545.93 541.17,1549.25 543,1552 C544.83,1554.75 546.8,1557.43 548.8,1559.6 C550.8,1561.77 552.7,1563.38 555,1565 C557.3,1566.62 559.02,1568.25 562.6,1569.3 C566.18,1570.35 570.27,1570.62 576.5,1571.3 C582.73,1571.98 592.8,1573.07 600,1573.4 C607.2,1573.73 613.87,1573.73 619.7,1573.3 C625.53,1572.87 631.13,1571.63 635,1570.8 C638.87,1569.97 640.4,1569.43 642.9,1568.3 C645.4,1567.17 647.78,1565.67 650,1564 C652.22,1562.33 654.37,1560.97 656.2,1558.3 C658.03,1555.63 659.33,1551.87 661,1548 C662.67,1544.13 664.62,1539.1 666.2,1535.1 C667.78,1531.1 669.12,1527.03 670.5,1524 C671.88,1520.97 673.33,1518.57 674.5,1516.9 C675.67,1515.23 676.57,1514.57 677.5,1514 C678.43,1513.43 679.1,1513.08 680.1,1513.5 C681.1,1513.92 682.23,1514.83 683.5,1516.5 C684.77,1518.17 686.12,1520.33 687.7,1523.5 C689.28,1526.67 691.07,1531.63 693,1535.5 C694.93,1539.37 696.97,1543.37 699.3,1546.7 C701.63,1550.03 704.23,1553.02 707,1555.5 C709.77,1557.98 712.9,1560.08 715.9,1561.6 C718.9,1563.12 721.68,1563.77 725,1564.6 C728.32,1565.43 731.63,1566.05 735.8,1566.6 C739.97,1567.15 745.02,1567.62 750,1567.9 C754.98,1568.18 761.53,1568.53 765.7,1568.3 C769.87,1568.07 771.68,1567.33 775,1566.5 C778.32,1565.67 782.27,1564.63 785.6,1563.3 C788.93,1561.97 791.68,1560.43 795,1558.5 C798.32,1556.57 802.33,1554.78 805.5,1551.7 C808.67,1548.62 811.23,1544.43 814,1540 C816.77,1535.57 819.85,1530.6 822.1,1525.1 C824.35,1519.6 825.83,1513.63 827.5,1507 C829.17,1500.37 830.77,1491.97 832.1,1485.3 C833.43,1478.63 834.4,1472.52 835.5,1467 C836.6,1461.48 837.7,1456.28 838.7,1452.2 C839.7,1448.12 840.57,1444.62 841.5,1442.5 C842.43,1440.38 843.3,1439.42 844.3,1439.5 C845.3,1439.58 846.22,1440.88 847.5,1443 C848.78,1445.12 850.67,1448.37 852,1452.2 C853.33,1456.03 854.4,1461.03 855.5,1466 C856.6,1470.97 857.43,1476 858.6,1482 C859.77,1488 861.12,1495.92 862.5,1502 C863.88,1508.08 865.15,1513.33 866.9,1518.5 C868.65,1523.67 870.52,1528.57 873,1533 C875.48,1537.43 878.97,1541.68 881.8,1545.1 C884.63,1548.52 886.68,1550.75 890,1553.5 C893.32,1556.25 897.77,1558.95 901.7,1561.6 C905.63,1564.25 909.33,1567.38 913.6,1569.4 C917.87,1571.42 922.47,1572.42 927.3,1573.7 C932.13,1574.98 937.2,1576.1 942.6,1577.1 C948,1578.1 954.02,1578.98 959.7,1579.7 C965.38,1580.42 969.6,1580.98 976.7,1581.4 C983.8,1581.82 995.18,1582.07 1002.3,1582.2 C1009.42,1582.33 1013.72,1582.42 1019.4,1582.2 C1025.08,1581.98 1031.07,1581.12 1036.4,1580.9 C1041.73,1580.68 1048.9,1580.9 1051.4,1580.9" fill="none" stroke="#111" stroke-width="1.35" stroke-linejoin="round" />
<line x1="186.1" y1="965" x2="186.1" y2="1591" stroke="#3a3a3a" stroke-width="1.5" stroke-dasharray="3.8,2.6,1.1,2.4,1.2,2.8"/>
<line x1="254.9" y1="1431.1" x2="254.9" y2="1591" stroke="#3a3a3a" stroke-width="1.5" stroke-dasharray="3.8,2.6,1.1,2.4,1.2,2.8"/>
<line x1="521.5" y1="1435" x2="521.5" y2="1591" stroke="#3a3a3a" stroke-width="1.5" stroke-dasharray="3.8,2.6,1.1,2.4,1.2,2.8"/>
<line x1="679.5" y1="1443.9" x2="679.5" y2="1591" stroke="#3a3a3a" stroke-width="1.5" stroke-dasharray="3.8,2.6,1.1,2.4,1.2,2.8"/>
<line x1="844.3" y1="1392.4" x2="844.3" y2="1591" stroke="#3a3a3a" stroke-width="1.5" stroke-dasharray="3.8,2.6,1.1,2.4,1.2,2.8"/>
<text transform="translate(217.5,1103.48) rotate(-90) scale(0.96,1)" font-family="'Liberation Sans', sans-serif" font-weight="bold" fill="#000"><tspan font-size="28.5" dy="-0">Anatase </tspan><tspan font-size="28.5" dy="-0" font-weight="normal">(</tspan><tspan font-size="28.5" dy="-0">E</tspan><tspan font-size="18.5" dy="8">g</tspan><tspan font-size="28.5" dy="-8" font-weight="normal">)</tspan></text>
<text transform="translate(260.7,1426.39) rotate(-90) scale(0.97,1)" font-family="'Liberation Sans', sans-serif" font-weight="bold" fill="#000"><tspan font-size="28.5" dy="-0">Anatase (E</tspan><tspan font-size="18.5" dy="8">g</tspan><tspan font-size="28.5" dy="-8">)</tspan></text>
<text transform="translate(526.6,1430.39) rotate(-90) scale(0.97,1)" font-family="'Liberation Sans', sans-serif" font-weight="bold" fill="#000"><tspan font-size="28.5" dy="-0">Anatase (B</tspan><tspan font-size="18.5" dy="8">1g</tspan><tspan font-size="28.5" dy="-8">)</tspan></text>
<text transform="translate(686.6,1442.48) rotate(-90) scale(0.96,1)" font-family="'Liberation Sans', sans-serif" font-weight="bold" fill="#000"><tspan font-size="28.5" dy="-0">Anatase (A</tspan><tspan font-size="18.5" dy="8">1g</tspan><tspan font-size="28.5" dy="-8">/B</tspan><tspan font-size="18.5" dy="8">1g</tspan><tspan font-size="28.5" dy="-8">)</tspan></text>
<text transform="translate(850.5,1391.38) rotate(-90) scale(0.96,1)" font-family="'Liberation Sans', sans-serif" font-weight="bold" fill="#000"><tspan font-size="28.5" dy="-0">Anatase (E</tspan><tspan font-size="18.5" dy="8">g</tspan><tspan font-size="28.5" dy="-8">)</tspan></text>
</svg></body></html>
